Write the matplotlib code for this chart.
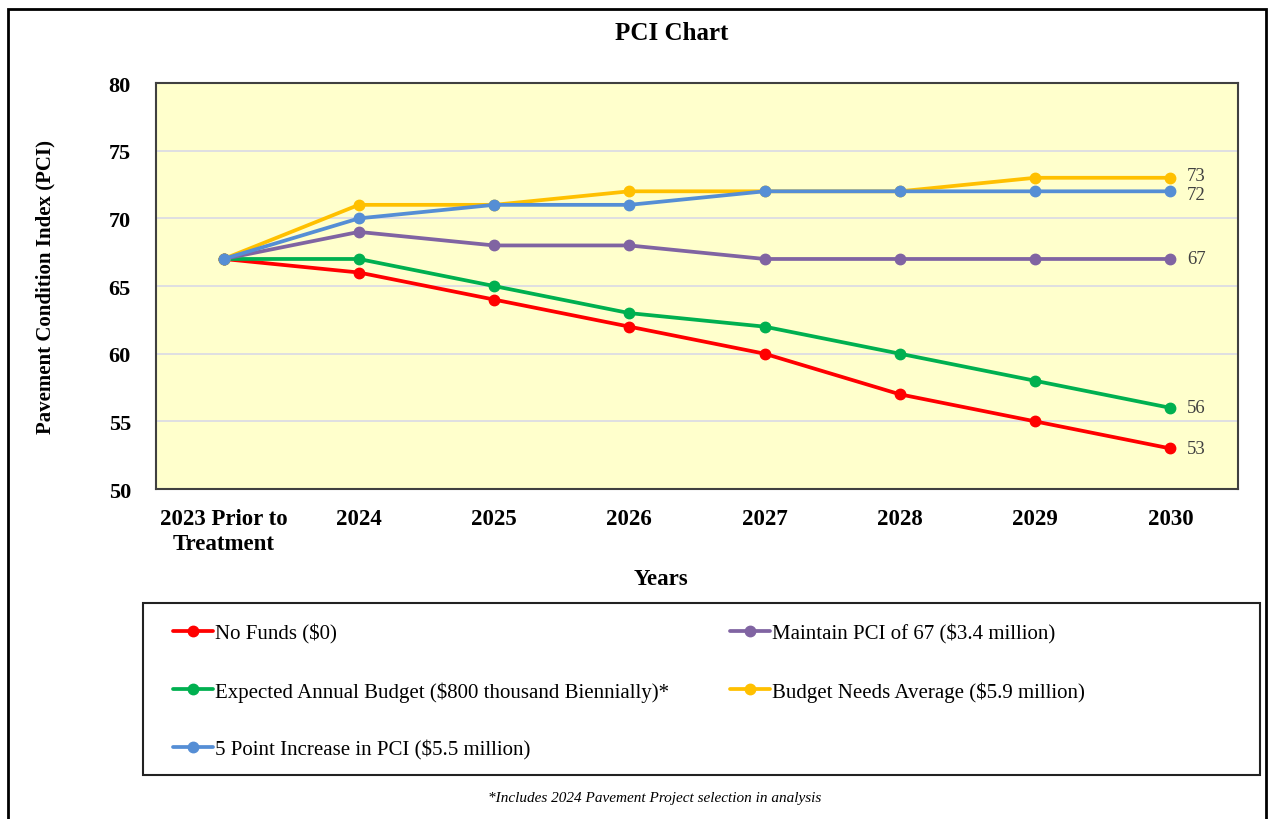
import matplotlib.pyplot as plt
from matplotlib.patches import Rectangle

# categorias del eje x
years = ['2023 Prior to\nTreatment', '2024', '2025', '2026', '2027', '2028', '2029', '2030']

# series de PCI
no_funds = [67, 66, 64, 62, 60, 57, 55, 53]
expected = [67, 67, 65, 63, 62, 60, 58, 56]
maintain = [67, 69, 68, 68, 67, 67, 67, 67]
budget_needs = [67, 71, 71, 72, 72, 72, 73, 73]
five_point = [67, 70, 71, 71, 72, 72, 72, 72]

labels = ['No Funds ($0)',
          'Expected Annual Budget ($800 thousand Biennially)*',
          'Maintain PCI of 67 ($3.4 million)',
          'Budget Needs Average ($5.9 million)',
          '5 Point Increase in PCI ($5.5 million)']
series = [no_funds, expected, maintain, budget_needs, five_point]
colors = ['#FF0000', '#00B050', '#8064A2', '#FFC000', '#558ED5']
# pequeño desplazamiento vertical de las etiquetas finales (pt) para que 73 y 72 no choquen
label_dy = [0, 0, 0, 2, -2]

plt.rcParams['font.family'] = ['Liberation Serif', 'DejaVu Serif']

fig = plt.figure(figsize=(12.68, 8.2), dpi=100)
ax = fig.add_axes([0.1230, 0.4024, 0.8533, 0.4951])
ax.set_facecolor('#FFFFCC')

x = list(range(len(years)))
lines = {}
for s, lab, c, dy in zip(series, labels, colors, label_dy):
    ln, = ax.plot(x, s, color=c, lw=2.7, marker='o', markersize=7.5, label=lab,
                  solid_capstyle='round', zorder=3)
    lines[lab] = ln
    ax.annotate(str(s[-1]), (x[-1], s[-1]), xytext=(12, dy), textcoords='offset points',
                va='center', ha='left', fontsize=13.5, color='#404040')

ax.set_xlim(-0.5, 7.5)
ax.set_ylim(50, 80)
ax.set_yticks(range(50, 81, 5))
ax.set_xticks(x)
ax.set_xticklabels(years, fontsize=16.5, fontweight='bold', linespacing=1.25)
ax.tick_params(axis='y', labelsize=16, length=0, pad=18)
for t in ax.get_yticklabels():
    t.set_fontweight('bold')
ax.tick_params(axis='x', length=0, pad=14)
ax.grid(axis='y', color='#D9D9E6', lw=1.2)
ax.set_axisbelow(True)
for sp in ax.spines.values():
    sp.set_color('#404040')
    sp.set_linewidth(1.5)

ax.set_ylabel('Pavement Condition Index (PCI)', fontsize=15, fontweight='bold', labelpad=38)
fig.text(0.5213, 0.293, 'Years', ha='center', va='center', fontsize=16.5, fontweight='bold')
fig.text(0.530, 0.959, 'PCI Chart', ha='center', va='center', fontsize=18, fontweight='bold')

# leyenda con recuadro propio
order = [labels[0], labels[1], labels[4], labels[2], labels[3]]
fig.legend([lines[l] for l in order], order, loc='upper left',
           bbox_to_anchor=(0.1217, 0.261), ncol=2, frameon=False,
           fontsize=15, handlelength=1.9, handletextpad=0.1,
           labelspacing=1.8, columnspacing=2.95)
fig.patches.append(Rectangle((0.1128, 0.0537), 0.8809, 0.2097, transform=fig.transFigure,
                             fill=False, edgecolor='#222222', lw=1.5))
fig.text(0.516, 0.026, '*Includes 2024 Pavement Project selection in analysis',
         ha='center', va='center', fontsize=11, fontstyle='italic')

# borde exterior
fig.patches.append(Rectangle((0.0063, -0.01), 0.9921, 0.998, transform=fig.transFigure,
                             fill=False, edgecolor='black', lw=2))

fig.savefig('out.png', dpi=100)
